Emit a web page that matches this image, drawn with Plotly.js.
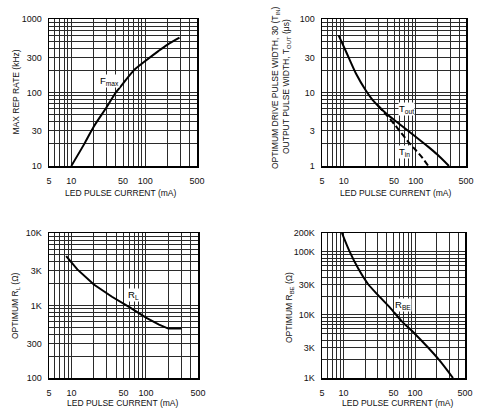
<!DOCTYPE html>
<html>
<head>
<meta charset="utf-8">
<script src="https://cdn.plot.ly/plotly-3.0.1.min.js"></script>
<style>html,body{margin:0;padding:0;background:#fff;}#chart{width:477px;height:411px;}</style>
</head>
<body>
<div id="chart"></div>
<script>
// ---- Data ----
const xTickLabels = [5, 10, 50, 100, 500];

// Panel 1: max rep rate vs LED pulse current
const fmaxCurrent = [10, 15, 20, 30, 40, 50, 70, 100, 150, 200, 290];
const fmaxRate    = [10, 20, 34, 63, 100, 132, 200, 268, 366, 449, 556];
const p1YLabels = [10, 30, 100, 300, 1000];

// Panel 2: pulse widths
const toutCurrent = [8.5, 10, 12, 15, 20, 25, 30, 40, 60, 100, 150, 200, 290];
const toutWidth   = [60, 42.5, 28.5, 17.7, 10.9, 8.0, 6.6, 5.05, 3.7, 2.5, 1.82, 1.43, 1.0];
const tinCurrent  = [30, 40, 50, 60, 80, 100, 125, 150];
const tinWidth    = [6.6, 4.85, 3.75, 3.0, 2.1, 1.65, 1.28, 1.0];
const p2YLabels = [1, 3, 10, 30, 100];

// Panel 3: optimum RL
const rlCurrent = [8.5, 12, 20, 35, 60, 100, 150, 200, 300];
const rlOhms    = [4800, 3150, 1950, 1320, 950, 680, 545, 480, 480];
const p3YVals = [100, 300, 1000, 3000, 10000];
const p3YText = ['100', '300', '1K', '3K', '10K'];

// Panel 4: optimum RBE
const rbeCurrent = [9.5, 12, 16, 22, 30, 45, 65, 100, 150, 220, 340];
const rbeOhms    = [200000, 105000, 55000, 31000, 21000, 13000, 8000, 5000, 3100, 1900, 1000];
const p4YVals = [1000, 3000, 10000, 30000, 100000, 200000];
const p4YText = ['1K', '3K', '10K', '30K', '100K', '200K'];

// ---- Layout helpers ----
const W = 477, H = 411;
const FONT = 'Liberation Sans, Arial, sans-serif';
const GRID = '#2a2a2a';
const fx = p => p / W;
const fy = p => 1 - p / H;

function gridVals(lo, hi) {
  const out = [];
  for (let d = Math.floor(Math.log10(lo)); d <= Math.ceil(Math.log10(hi)); d++) {
    for (let m = 1; m <= 9; m++) {
      const v = m * Math.pow(10, d);
      if (v >= lo * 0.999 && v <= hi * 1.001) out.push(v);
    }
  }
  return out;
}

function axis(domain, lo, hi, labVals, labText, anchor, isX) {
  const minorVals = gridVals(lo, hi).filter(v => !labVals.some(l => Math.abs(l - v) / v < 1e-6));
  return {
    type: 'log', domain: domain, anchor: anchor,
    range: [Math.log10(lo), Math.log10(hi)],
    tickmode: 'array', tickvals: labVals, ticktext: labText || labVals.map(String),
    ticks: '', showgrid: true, gridcolor: GRID, gridwidth: 1,
    minor: {tickmode: 'array', tickvals: minorVals, ticks: '', showgrid: true, gridcolor: GRID, gridwidth: 1},
    showline: true, mirror: true, linecolor: '#000', linewidth: 1.5,
    zeroline: false, fixedrange: true,
    tickfont: {family: FONT, size: 9, color: '#111'},
    ticklabelstandoff: isX ? 6 : 4
  };
}

const line = {color: '#000', width: 2};
const traces = [
  {x: fmaxCurrent, y: fmaxRate, xaxis: 'x', yaxis: 'y', mode: 'lines', line: Object.assign({shape: 'spline', smoothing: 0.8}, line), name: 'Fmax'},
  {x: toutCurrent, y: toutWidth, xaxis: 'x2', yaxis: 'y2', mode: 'lines', line: Object.assign({shape: 'spline', smoothing: 0.8}, line), name: 'Tout'},
  {x: tinCurrent, y: tinWidth, xaxis: 'x2', yaxis: 'y2', mode: 'lines', line: {color: '#000', width: 2, dash: '6px,3px', shape: 'spline', smoothing: 0.8}, name: 'Tin'},
  {x: rlCurrent, y: rlOhms, xaxis: 'x3', yaxis: 'y3', mode: 'lines', line: line, name: 'RL'},
  {x: rbeCurrent, y: rbeOhms, xaxis: 'x4', yaxis: 'y4', mode: 'lines', line: Object.assign({shape: 'spline', smoothing: 0.8}, line), name: 'RBE'}
];

function curveLabel(text, xr, yr, xv, yv) {
  return {text: text, xref: xr, yref: yr, x: Math.log10(xv), y: Math.log10(yv),
    xanchor: 'left', yanchor: 'middle', showarrow: false, bgcolor: '#fff', borderpad: 0,
    font: {family: FONT, size: 9.5, color: '#000'}};
}
function paperText(text, px, py, angle) {
  return {text: text, xref: 'paper', yref: 'paper', x: fx(px), y: fy(py),
    xanchor: 'center', yanchor: 'middle', showarrow: false, textangle: angle || 0,
    font: {family: FONT, size: 8.5, color: '#111'}};
}
const xTitle = 'LED PULSE CURRENT (mA)';

const layout = {
  width: W, height: H, showlegend: false,
  paper_bgcolor: '#fff', plot_bgcolor: '#fff',
  margin: {l: 0, r: 0, t: 0, b: 0, autoexpand: false},
  xaxis:  axis([fx(49), fx(197)], 5, 500, xTickLabels, null, 'y', true),
  yaxis:  axis([fy(166), fy(19)], 10, 1000, p1YLabels, null, 'x', false),
  xaxis2: axis([fx(322), fx(466)], 5, 500, xTickLabels, null, 'y2', true),
  yaxis2: axis([fy(166), fy(19)], 1, 100, p2YLabels, null, 'x2', false),
  xaxis3: axis([fx(49), fx(198)], 5, 500, xTickLabels, null, 'y3', true),
  yaxis3: axis([fy(378), fy(233)], 100, 10000, p3YVals, p3YText, 'x3', false),
  xaxis4: axis([fx(322), fx(465)], 5, 500, xTickLabels, null, 'y4', true),
  yaxis4: axis([fy(378), fy(233)], 1000, 200000, p4YVals, p4YText, 'x4', false),
  annotations: [
    curveLabel('F<sub>max</sub>', 'x', 'y', 23.5, 144),
    curveLabel('T<sub>out</sub>', 'x2', 'y2', 56, 6.0),
    curveLabel('T<sub>in</sub>', 'x2', 'y2', 56, 1.55),
    curveLabel('R<sub>L</sub>', 'x3', 'y3', 55, 1400),
    curveLabel('R<sub>BE</sub>', 'x4', 'y4', 51, 14400),
    paperText(xTitle, 121, 193),
    paperText(xTitle, 395, 193),
    paperText(xTitle, 122, 403),
    paperText(xTitle, 397, 403),
    paperText('MAX REP RATE (kHz)', 15, 92.5, -90),
    paperText('OPTIMUM DRIVE PULSE WIDTH, 30 (T<sub>IN</sub>)', 276, 88, -90),
    paperText('OUTPUT PULSE WIDTH, T<sub>OUT</sub> (μs)', 287, 87, -90),
    paperText('OPTIMUM R<sub>L</sub> (Ω)', 15, 306, -90),
    paperText('OPTIMUM R<sub>BE</sub> (Ω)', 289, 308, -90)
  ]
};

Plotly.newPlot('chart', traces, layout, {staticPlot: true, displayModeBar: false});
</script>
</body>
</html>
